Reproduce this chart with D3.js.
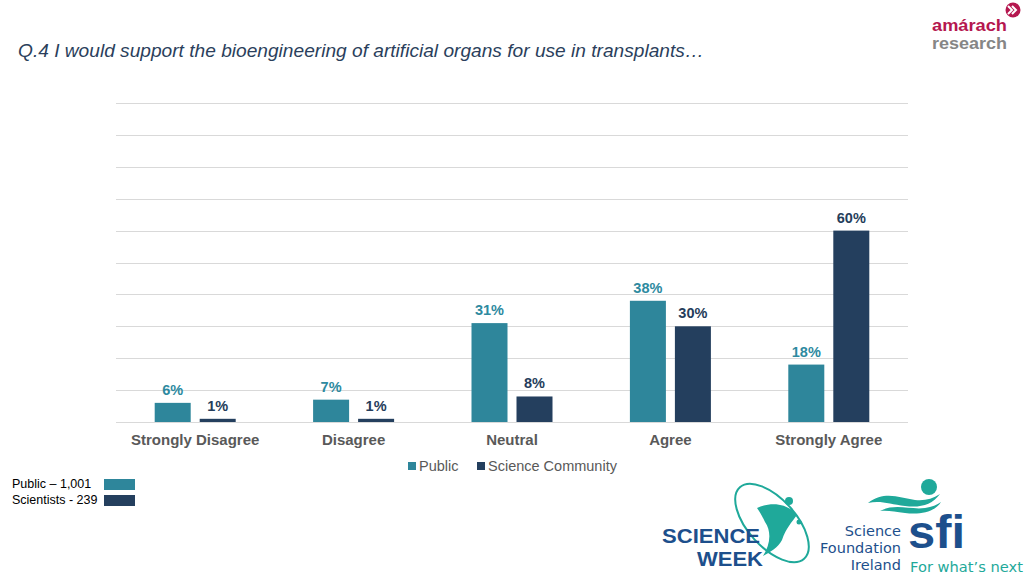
<!DOCTYPE html>
<html><head><meta charset="utf-8">
<script src="https://cdn.jsdelivr.net/npm/d3@7"></script>
<style>body{margin:0;background:#fff}svg{display:block}</style>
</head><body>
<svg id="c" width="1024" height="576"></svg>
<script>
const categories = ["Strongly Disagree","Disagree","Neutral","Agree","Strongly Agree"];
const seriesNames = ["Public","Science Community"];
const publicValues = [6,7,31,38,18];
const scienceValues = [1,1,8,30,60];
const yTicks = [0,10,20,30,40,50,60,70,80,90,100];
const sampleLabels = ["Public \u2013 1,001","Scientists - 239"];

const colors = {"Public":"#2E869B","Science Community":"#243F5E"};
const labelColors = {"Public":"#2E8AA0","Science Community":"#253D5B"};
const svg = d3.select("#c");
const font = "'Liberation Sans', Arial, sans-serif";

// title
svg.append("text").attr("x",18).attr("y",57).attr("font-family",font).attr("font-style","italic")
  .attr("font-size",19).attr("fill","#2b3f5c").attr("textLength",686).attr("lengthAdjust","spacingAndGlyphs")
  .text("Q.4 I would support the bioengineering of artificial organs for use in transplants\u2026");

const x0 = d3.scaleBand().domain(categories).range([116,908]).padding(0);
const x1 = d3.scaleBand().domain(seriesNames).range([0,x0.bandwidth()]).paddingInner(0.2).paddingOuter(0.86);
const y = d3.scaleLinear().domain([0,100]).range([422,103]);

// gridlines
svg.append("g").selectAll("line").data(yTicks).join("line")
  .attr("x1",116).attr("x2",908).attr("y1",d=>Math.round(y(d))+0.5).attr("y2",d=>Math.round(y(d))+0.5)
  .attr("stroke","#d9d9d9").attr("stroke-width",1);

const data = categories.map((c,i)=>({cat:c, vals:[{s:"Public",v:publicValues[i]},{s:"Science Community",v:scienceValues[i]}]}));

const g = svg.append("g").selectAll("g").data(data).join("g").attr("transform",d=>`translate(${x0(d.cat)},0)`);
g.selectAll("rect").data(d=>d.vals).join("rect")
  .attr("x",d=>x1(d.s)).attr("width",x1.bandwidth())
  .attr("y",d=>y(d.v)).attr("height",d=>y(0)-y(d.v)).attr("fill",d=>colors[d.s]);
g.selectAll("text").data(d=>d.vals).join("text")
  .attr("x",d=>x1(d.s)+x1.bandwidth()/2).attr("y",d=>y(d.v)-8)
  .attr("text-anchor","middle").attr("font-family",font).attr("font-weight","bold").attr("font-size",14.5)
  .attr("fill",d=>labelColors[d.s]).text(d=>d.v+"%");

// x axis labels
svg.append("g").selectAll("text").data(categories).join("text")
  .attr("x",d=>x0(d)+x0.bandwidth()/2).attr("y",445).attr("text-anchor","middle")
  .attr("font-family",font).attr("font-weight","bold").attr("font-size",15).attr("fill","#595959").text(d=>d);

// legend
const leg = [{s:"Public",x:408},{s:"Science Community",x:477}];
const lg = svg.append("g");
leg.forEach(l=>{
  lg.append("rect").attr("x",l.x).attr("y",462).attr("width",8).attr("height",8).attr("fill",colors[l.s]);
  lg.append("text").attr("x",l.x+11).attr("y",471).attr("font-family",font).attr("font-size",14.5).attr("fill","#595959").text(l.s);
});

// sample size box
sampleLabels.forEach((t,i)=>{
  svg.append("text").attr("x",12).attr("y",488+i*16).attr("font-family",font).attr("font-size",12.5).attr("fill","#000").text(t);
  svg.append("rect").attr("x",104).attr("y",479+i*16).attr("width",31).attr("height",11).attr("fill",colors[seriesNames[i]]);
});

// amarach logo
svg.append("text").attr("x",932).attr("y",31).attr("font-family",font).attr("font-weight","bold")
  .attr("font-size",16).attr("fill","#b5174f").attr("textLength",75).attr("lengthAdjust","spacingAndGlyphs").text("am\u00e1rach");
svg.append("text").attr("x",932).attr("y",48.5).attr("font-family",font).attr("font-weight","bold")
  .attr("font-size",16).attr("fill","#868686").attr("textLength",75).attr("lengthAdjust","spacingAndGlyphs").text("research");
svg.append("circle").attr("cx",1013).attr("cy",10).attr("r",7.5).attr("fill","#b5174f");
svg.append("path").attr("d","M1008,6 L1012,10 L1008,14 M1012,6 L1016,10 L1012,14").attr("stroke","#fff").attr("stroke-width",2).attr("fill","none");

// Science Week logo
const sw = svg.append("g");
sw.append("ellipse").attr("cx",772).attr("cy",523).attr("rx",24).attr("ry",48).attr("transform","rotate(-42,772,523)")
  .attr("fill","none").attr("stroke","#1fa99a").attr("stroke-width",2);
sw.append("path").attr("d","M757,508 C775,500 790,506 797,515 C792,522 786,528 782,540 C778,548 770,552 763,556 C770,545 772,532 765,522 C762,516 760,512 757,508 Z").attr("fill","#1fa99a");
sw.append("circle").attr("cx",789).attr("cy",501).attr("r",4).attr("fill","#1fa99a");
sw.append("circle").attr("cx",799).attr("cy",522).attr("r",2.5).attr("fill","#1fa99a");
sw.append("text").attr("x",662).attr("y",543).attr("font-family",font).attr("font-weight","bold")
  .attr("font-size",20).attr("fill","#1d4f8c").attr("textLength",98).attr("lengthAdjust","spacingAndGlyphs").text("SCIENCE");
sw.append("text").attr("x",697).attr("y",566).attr("font-family",font).attr("font-weight","bold")
  .attr("font-size",20).attr("fill","#1d4f8c").attr("textLength",66).attr("lengthAdjust","spacingAndGlyphs").text("WEEK");

// SFI logo
const sf = svg.append("g");
["Science","Foundation","Ireland"].forEach((t,i)=>{
  sf.append("text").attr("x",901).attr("y",536+i*17).attr("text-anchor","end").attr("font-family","'DejaVu Sans', sans-serif")
    .attr("font-size",14.5).attr("fill","#1d4f8c").text(t);
});
sf.append("text").attr("x",908).attr("y",548).attr("font-family",font).attr("font-weight","bold")
  .attr("font-size",46).attr("fill","#1d4f8c").attr("textLength",57).attr("lengthAdjust","spacingAndGlyphs").text("sfi");
sf.append("text").attr("x",910).attr("y",572).attr("font-family","'DejaVu Sans', sans-serif")
  .attr("font-size",14.5).attr("fill","#1fa99a").attr("textLength",113).attr("lengthAdjust","spacingAndGlyphs").text("For what\u2019s next");
sf.append("path").attr("d","M868,503 C885,490 900,498 915,500 C925,501 932,499 940,494 C932,505 920,508 905,506 C890,504 880,500 868,503 Z").attr("fill","#1fa99a");
sf.append("path").attr("d","M880,511 C895,503 910,510 925,508 C932,507 937,505 941,502 C935,512 920,515 905,513 C895,512 888,510 880,511 Z").attr("fill","#1fa99a");
sf.append("circle").attr("cx",929).attr("cy",487).attr("r",8).attr("fill","#1fa99a");
</script>
</body></html>
